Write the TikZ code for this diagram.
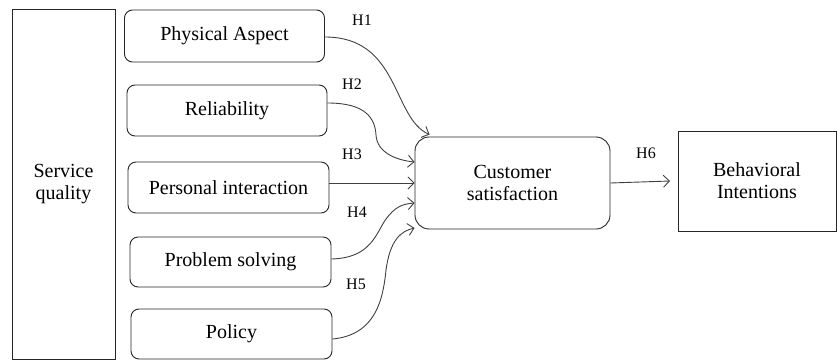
\documentclass[tikz,border=0pt]{standalone}
\usepackage{fontspec}
\setmainfont{Liberation Serif}
\usetikzlibrary{arrows.meta}
\begin{document}
\begin{tikzpicture}[x=1pt,y=-1pt,
  box/.style={draw=black!85,line width=0.9pt,rounded corners=8pt,inner sep=0pt,align=center,font=\fontsize{20}{22}\selectfont},
  sqbox/.style={draw=black!85,line width=0.9pt,inner sep=0pt,align=center,font=\fontsize{20}{22}\selectfont},
  conn/.style={draw=black!75,line width=0.9pt,-{Straight Barb[length=6pt,width=12pt]}},
  hlab/.style={font=\fontsize{16}{18}\selectfont,inner sep=0pt}]
\useasboundingbox (0,0) rectangle (837,361);
\node[sqbox,minimum width=103pt,minimum height=350pt] (sq) at (63.5,184) {Service\\quality};
\node[box,minimum width=200pt,minimum height=52pt] (pa) at (224.5,36) {Physical Aspect};
\node[box,minimum width=200pt,minimum height=51pt] (rel) at (227,110.5) {Reliability};
\node[box,minimum width=201pt,minimum height=51pt] (pi) at (228.5,187.5) {Personal interaction};
\node[box,minimum width=201pt,minimum height=50pt] (ps) at (230.5,262) {Problem solving};
\node[box,minimum width=201pt,minimum height=50pt] (po) at (231.5,334) {Policy};
\node[box,rounded corners=14pt,minimum width=195pt,minimum height=92pt] (cs) at (512.5,183) {Customer\\satisfaction};
\node[sqbox,minimum width=158pt,minimum height=100pt] (bi) at (757,181) {Behavioral\\Intentions};
\coordinate (t1) at ([xshift=15pt,yshift=2pt]cs.north west);
\coordinate (t2) at ([yshift=21pt]cs.west);
\coordinate (t4) at ([yshift=-20pt]cs.west);
\coordinate (t5) at ([yshift=-45pt]cs.west);
\path[conn] ([yshift=-1pt]pa.east) .. controls +(75,0) and (392,118) .. (t1);
\path[conn] ([yshift=7.5pt]rel.east) .. controls +(38,0) and (375,118) .. (376,135) .. controls (377,152) and (395,160) .. (t2);
\path[conn] (pi.east |- cs.west) -- (cs.west);
\path[conn] ([yshift=3pt]ps.east) .. controls +(40,-1) and (376,233) .. (386,219) .. controls (395,207) and (402,204) .. (t4);
\path[conn] ([yshift=-5pt]po.east) .. controls +(43,-4) and (383,300) .. (386,270) .. controls (390,240) and (401,231) .. (t5);
\path[conn] (cs.east) -- (bi.west -| 670,0);
\node[hlab] (h1) at (362,20) {H1};
\node[hlab] (h2) at (352,84) {H2};
\node[hlab] (h3) at (352,154) {H3};
\node[hlab] (h4) at (357,212) {H4};
\node[hlab] (h5) at (356,284) {H5};
\node[hlab] (h6) at (646,153) {H6};
\end{tikzpicture}
\end{document}
